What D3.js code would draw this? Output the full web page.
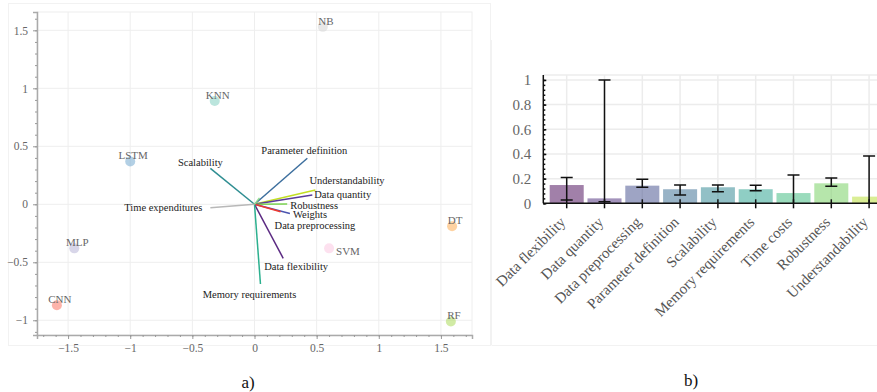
<!DOCTYPE html>
<html>
<head>
<meta charset="utf-8">
<script src="https://cdn.jsdelivr.net/npm/d3@7"></script>
<style>
  body { margin: 0; background: #fff; }
  svg { display: block; font-family: "Liberation Serif", "Times New Roman", serif; }
</style>
</head>
<body>
<div id="chart"></div>
<script>
// ---- data: biplot (a) ----
const models = ['KNN', 'MLP', 'CNN', 'LSTM', 'DT', 'RF', 'SVM', 'NB'];
const modelPc1 = [-0.32, -1.45, -1.59, -1.0, 1.59, 1.58, 0.6, 0.55];
const modelPc2 = [0.89, -0.38, -0.87, 0.37, -0.19, -1.01, -0.38, 1.53];
const modelColors = ['#8dd3c7', '#bebada', '#fb8072', '#80b1d3', '#fdb462', '#b3de69', '#fccde5', '#d9d9d9'];

const loadings = ['Scalability', 'Parameter definition', 'Understandability', 'Data quantity', 'Robustness',
  'Weights', 'Data preprocessing', 'Data flexibility', 'Memory requirements', 'Time expenditures', ''];
const loadingPc1 = [-0.355, 0.425, 0.49, 0.465, 0.263, 0.285, 0.21, 0.231, 0.048, -0.355, 0.04];
const loadingPc2 = [0.31, 0.397, 0.123, 0.08, 0.003, -0.08, -0.064, -0.466, -0.687, -0.03, 0.055];
const loadingColors = ['#2f8e92', '#3d6f9e', '#c2df23', '#5a3b9a', '#7ad151', '#4b55b0', '#f03a30',
  '#5b2a82', '#2cb08f', '#b8b8b8', '#8fdc8f'];

// ---- data: bar chart (b) ----
const criteria = ['Data flexibility', 'Data quantity', 'Data preprocessing', 'Parameter definition', 'Scalability',
  'Memory requirements', 'Time costs', 'Robustness', 'Understandability'];
const weights = [0.148, 0.04, 0.143, 0.114, 0.13, 0.114, 0.083, 0.162, 0.054];
const errLow = [0.027, 0.013, 0.13, 0.067, 0.094, 0.102, -0.1, 0.138, -0.1];
const errHigh = [0.21, 1.0, 0.195, 0.148, 0.148, 0.146, 0.23, 0.205, 0.384];

// label placement (pixels) for loading arrows: [dx, dy, anchor]
const loadingLabelPos = [[-10, -6, 'middle'], [-3, -8, 'middle'], [-6, -10, 'start'], [2, -1, 'start'],
  [3, 1, 'start'], [3, 1, 'start'], [-6, 14, 'start'], [-19, 8, 'start'], [-11, 10, 'middle'],
  [-8, 0, 'end'], [0, 0, 'start']];

const W = 877, H = 392;
const svg = d3.select('#chart').append('svg').attr('width', W).attr('height', H);

// ================= panel a =================
const ax = { left: 37, right: 472, top: 12, bottom: 335 };
const x = d3.scaleLinear().domain([-1.75, 1.75]).range([ax.left, ax.right]);
const y = d3.scaleLinear().domain([-1.127, 1.658]).range([ax.bottom, ax.top]);

// faint figure frame
svg.append('rect').attr('x', 8.5).attr('y', 3.5).attr('width', 482).attr('height', 342)
  .attr('fill', 'none').attr('stroke', '#f2f2f2');

const gA = svg.append('g');
const xMajor = [-1.5, -1, -0.5, 0, 0.5, 1, 1.5];
const yMajor = [-1, -0.5, 0, 0.5, 1, 1.5];

gA.append('rect').attr('x', ax.left).attr('y', ax.top)
  .attr('width', ax.right - ax.left).attr('height', ax.bottom - ax.top)
  .attr('fill', 'none').attr('stroke', '#eeeeee');
gA.selectAll('.gx').data(xMajor).join('line')
  .attr('x1', d => x(d)).attr('x2', d => x(d)).attr('y1', ax.top).attr('y2', ax.bottom)
  .attr('stroke', '#eeeeee');
gA.selectAll('.gy').data(yMajor).join('line')
  .attr('y1', d => y(d)).attr('y2', d => y(d)).attr('x1', ax.left).attr('x2', ax.right)
  .attr('stroke', '#eeeeee');

const fmtA = d3.format('~g');
gA.append('g').attr('transform', `translate(0,${ax.bottom})`)
  .call(d3.axisBottom(x).tickValues(xMajor).tickFormat(fmtA).tickSize(4).tickPadding(5));
gA.append('g').attr('transform', `translate(0,${ax.bottom})`)
  .call(d3.axisBottom(x).tickValues(d3.range(-17, 18).map(d => d / 10)).tickFormat('').tickSize(2))
  .call(g => g.select('.domain').remove());
gA.append('g').attr('transform', `translate(${ax.left},0)`)
  .call(d3.axisLeft(y).tickValues(yMajor).tickFormat(fmtA).tickSize(4).tickPadding(5));
gA.append('g').attr('transform', `translate(${ax.left},0)`)
  .call(d3.axisLeft(y).tickValues(d3.range(-11, 17).map(d => d / 10)).tickFormat('').tickSize(2))
  .call(g => g.select('.domain').remove());
gA.selectAll('.domain').attr('stroke', '#aaaaaa').attr('stroke-width', 1.5);
gA.selectAll('.tick line').attr('stroke', '#999999');
gA.selectAll('.tick text').attr('fill', '#666666').style('font-size', '11.5px')
  .style('font-family', '"Liberation Serif", serif');

// loading vectors
const vec = gA.append('g');
vec.selectAll('line').data(loadings).join('line')
  .attr('x1', x(0)).attr('y1', y(0))
  .attr('x2', (d, i) => x(loadingPc1[i])).attr('y2', (d, i) => y(loadingPc2[i]))
  .attr('stroke', (d, i) => loadingColors[i]).attr('stroke-width', 1.5);
vec.selectAll('text').data(loadings).join('text')
  .attr('x', (d, i) => x(loadingPc1[i]) + loadingLabelPos[i][0])
  .attr('y', (d, i) => y(loadingPc2[i]) + loadingLabelPos[i][1])
  .attr('dy', '0.35em')
  .attr('text-anchor', (d, i) => loadingLabelPos[i][2])
  .attr('fill', '#222222').style('font-size', '10.5px')
  .text(d => d);

// model points
const pts = gA.append('g');
pts.selectAll('circle').data(models).join('circle')
  .attr('cx', (d, i) => x(modelPc1[i])).attr('cy', (d, i) => y(modelPc2[i]))
  .attr('r', 5).attr('fill', (d, i) => modelColors[i]).attr('fill-opacity', 0.6);
pts.selectAll('text').data(models).join('text')
  .attr('x', (d, i) => x(modelPc1[i]) + (d === 'SVM' ? 7 : 3))
  .attr('y', (d, i) => y(modelPc2[i]) + (d === 'SVM' ? 3 : -6))
  .attr('dy', '0.35em')
  .attr('text-anchor', d => d === 'SVM' ? 'start' : 'middle')
  .attr('fill', '#666666').style('font-size', '11px')
  .text(d => d);

svg.append('text').attr('x', 248).attr('y', 382).attr('dy', '0.35em').attr('text-anchor', 'middle')
  .style('font-size', '17px').attr('fill', '#111').text('a)');

// ================= panel b =================
const bx = { left: 543.3, top: 75, bottom: 203.3 };
svg.append('line').attr('x1', 491.5).attr('x2', 491.5).attr('y1', 40).attr('y2', 345)
  .attr('stroke', '#f2f2f2');
svg.append('line').attr('x1', 491.5).attr('x2', W).attr('y1', 345.5).attr('y2', 345.5)
  .attr('stroke', '#f2f2f2');

const xb = d3.scaleBand().domain(criteria).range([547.8, 888]).paddingInner(0.1).paddingOuter(0.05);
const yb = d3.scaleLinear().domain([0, 1.04]).range([bx.bottom, bx.top]);
const gB = svg.append('g');

gB.selectAll('.gvx').data(criteria).join('line')
  .attr('x1', d => xb(d) + xb.bandwidth() / 2).attr('x2', d => xb(d) + xb.bandwidth() / 2)
  .attr('y1', bx.top).attr('y2', bx.bottom).attr('stroke', '#ececec').attr('stroke-width', 1.5);
gB.selectAll('.gvy').data([0.2, 0.4, 0.6, 0.8, 1, 1.04]).join('line')
  .attr('y1', d => yb(d)).attr('y2', d => yb(d)).attr('x1', bx.left).attr('x2', W)
  .attr('stroke', '#ececec').attr('stroke-width', 1.5);

gB.selectAll('rect').data(criteria).join('rect')
  .attr('x', d => xb(d)).attr('width', xb.bandwidth())
  .attr('y', (d, i) => yb(weights[i])).attr('height', (d, i) => yb(0) - yb(weights[i]))
  .attr('fill', (d, i) => d3.interpolateViridis(i / 9)).attr('fill-opacity', 0.5);

// error bars, clipped to the plot area
svg.append('clipPath').attr('id', 'clipB').append('rect')
  .attr('x', bx.left).attr('y', bx.top - 5).attr('width', W).attr('height', bx.bottom - bx.top + 5);
const eb = gB.append('g').attr('clip-path', 'url(#clipB)');
criteria.forEach((c, i) => {
  const cx = xb(c) + xb.bandwidth() / 2;
  eb.append('line').attr('x1', cx).attr('x2', cx).attr('y1', yb(errLow[i])).attr('y2', yb(errHigh[i]))
    .attr('stroke', '#111').attr('stroke-width', 1.5);
  [errLow[i], errHigh[i]].filter(v => v >= 0).forEach(v => {
    eb.append('line').attr('x1', cx - 6).attr('x2', cx + 6).attr('y1', yb(v)).attr('y2', yb(v))
      .attr('stroke', '#111').attr('stroke-width', 1.5);
  });
});

const xAxisB = gB.append('g').attr('transform', `translate(0,${bx.bottom})`)
  .call(d3.axisBottom(xb).tickSize(5).tickFormat(''));
xAxisB.selectAll('.tick line').attr('y1', -4);
xAxisB.select('.domain').attr('d', `M${bx.left},0H${W}`);
xAxisB.selectAll('.tick').append('text')
  .attr('transform', 'translate(-4,16) rotate(-45)')
  .attr('text-anchor', 'end').attr('dy', '0.35em')
  .attr('fill', '#555555').style('font-size', '15px')
  .text(d => d);

const yAxisB = gB.append('g').attr('transform', `translate(${bx.left},0)`)
  .call(d3.axisLeft(yb).tickValues([0, 0.2, 0.4, 0.6, 0.8, 1]).tickFormat(d3.format('~g')).tickSize(5).tickPadding(7));
yAxisB.selectAll('.tick line').attr('x2', 3);
yAxisB.selectAll('.tick text').attr('fill', '#666666').style('font-size', '15px');
yAxisB.select('.domain').attr('d', `M0,${bx.bottom}V${bx.top}`);
gB.append('g').attr('transform', `translate(${bx.left},0)`)
  .call(d3.axisLeft(yb).tickValues(d3.range(0, 26).map(d => d * 0.04)).tickFormat('').tickSize(3))
  .call(g => g.select('.domain').remove())
  .call(g => g.selectAll('.tick line').attr('x2', 2));
gB.selectAll('.domain').attr('stroke', '#111').attr('stroke-width', 1.5);
gB.selectAll('.tick line').attr('stroke', '#111').attr('stroke-width', 1.5);
gB.selectAll('text').style('font-family', '"Liberation Serif", serif');

svg.append('text').attr('x', 691).attr('y', 380).attr('dy', '0.35em').attr('text-anchor', 'middle')
  .style('font-size', '17px').attr('fill', '#111').text('b)');
</script>
</body>
</html>
